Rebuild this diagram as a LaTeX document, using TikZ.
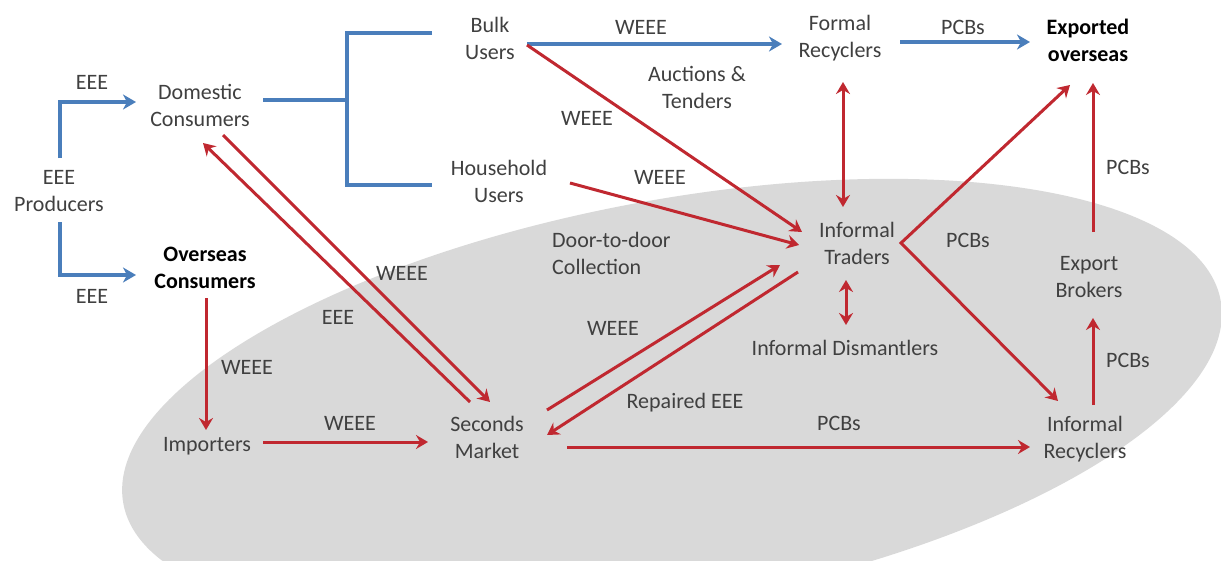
\documentclass[tikz,border=0pt]{standalone}
\usepackage{fontspec}
\setmainfont{Carlito}
\usetikzlibrary{arrows.meta}
\definecolor{ablue}{RGB}{74,126,187}
\definecolor{ared}{RGB}{192,40,48}
\definecolor{txt}{RGB}{64,64,64}
\definecolor{blob}{RGB}{217,217,217}
\begin{document}
\begin{tikzpicture}[x=1pt,y=-1pt,
  lbl/.style={text=txt, font=\fontsize{22}{27}\selectfont, align=center, inner sep=0pt},
  boldlbl/.style={lbl, text=black, font=\fontsize{22}{27}\selectfont\bfseries},
  bluearrow/.style={draw=ablue, line width=3.5pt, -{Stealth[length=13pt,width=15pt,inset=4pt]}},
  blueline/.style={draw=ablue, line width=3.5pt},
  redarrow/.style={draw=ared, line width=3pt, -{Stealth[length=12pt,width=14pt,inset=4pt]}},
  redboth/.style={draw=ared, line width=3pt, {Stealth[length=12pt,width=14pt,inset=4pt]}-{Stealth[length=12pt,width=14pt,inset=4pt]}},
]
\useasboundingbox (0,0) rectangle (1221,560);
\clip (0,0) rectangle (1221,560);
\fill[white] (0,0) rectangle (1221,560);
\begin{scope}[shift={(672,402)}, rotate=10.5]
  \fill[blob] (0,0) ellipse [x radius=558, y radius=202];
\end{scope}

% main nodes
\node[lbl] (prod) at (59,191) {EEE\\Producers};
\node[lbl] (dom) at (200,105) {Domestic\\Consumers};
\node[boldlbl] (ovs) at (205,268) {Overseas\\Consumers};
\node[lbl] (bulk) at (490,38) {Bulk\\Users};
\node[lbl] (house) at (499,181) {Household\\Users};
\node[lbl] (formal) at (840,38) {Formal\\Recyclers};
\node[boldlbl] (export) at (1088,40) {Exported\\overseas};
\node[lbl] (traders) at (857,243) {Informal\\Traders};
\node[lbl] (dism) at (845,348) {Informal Dismantlers};
\node[lbl] (brokers) at (1089,277) {Export\\Brokers};
\node[lbl] (irec) at (1085,439) {Informal\\Recyclers};
\node[lbl] (second) at (487,437) {Seconds\\Market};
\node[lbl] (imp) at (207,446) {Importers};

% edge labels
\node[lbl] (l1) at (92,82) {EEE};
\node[lbl] (l2) at (92,296) {EEE};
\node[lbl] (l3) at (641,27) {WEEE};
\node[lbl] (l4) at (697,87) {Auctions \&\\Tenders};
\node[lbl] (l5) at (587,118) {WEEE};
\node[lbl] (l6) at (660,177) {WEEE};
\node[lbl, align=left, anchor=west] (l7) at (552,253) {Door-to-door\\Collection};
\node[lbl] (l8) at (402,273) {WEEE};
\node[lbl] (l9) at (338,317) {EEE};
\node[lbl] (l10) at (247,367) {WEEE};
\node[lbl] (l11) at (350,423) {WEEE};
\node[lbl] (l12) at (613,328) {WEEE};
\node[lbl] (l13) at (685,403) {Repaired EEE};
\node[lbl] (l14) at (839,423) {PCBs};
\node[lbl] (l15) at (968,240) {PCBs};
\node[lbl] (l16) at (1128,167) {PCBs};
\node[lbl] (l17) at (1128,360) {PCBs};
\node[lbl] (l18) at (963,27) {PCBs};

% blue connectors
\draw[bluearrow] ([shift={(1,-33)}]prod.center) |- ([shift={(-64,-3)}]dom.center);
\draw[bluearrow] ([shift={(1,31)}]prod.center) |- ([shift={(-69,7)}]ovs.center);
\draw[blueline] ([shift={(63,-5)}]dom.center) -- ++(84,0);
\draw[blueline] ([shift={(-58,-5)}]bulk.center) -- ++(-85,0) -- ++(0,152) -- ([shift={(-67,4)}]house.center);
\draw[bluearrow] ([shift={(37,6)}]bulk.center) -- ([shift={(-58,6)}]formal.center);
\draw[bluearrow] ([shift={(60,4)}]formal.center) -- ([shift={(-58,2)}]export.center);

% red connectors
\draw[redarrow] ([shift={(37,7)}]bulk.center) -- ([shift={(-55,-11)}]traders.center);
\draw[redarrow] ([shift={(71,2)}]house.center) -- ([shift={(-58,2)}]traders.center);
\draw[redarrow] ([shift={(60,-27)}]second.center) -- ([shift={(-77,22)}]traders.center);
\draw[redarrow] ([shift={(-59,29)}]traders.center) -- ([shift={(60,-2)}]second.center);
\draw[redarrow] ([shift={(23,30)}]dom.center) -- ([shift={(3,-35)}]second.center);
\draw[redarrow] ([shift={(-17,-35)}]second.center) -- ([shift={(3,38)}]dom.center);
\draw[redarrow] ([shift={(1,30)}]ovs.center) -- ([shift={(-1,-16)}]imp.center);
\draw[redarrow] ([shift={(56,-4)}]imp.center) -- ([shift={(-59,5)}]second.center);
\draw[redarrow] ([shift={(80,10)}]second.center) -- ([shift={(-55,8)}]irec.center);
\draw[redboth] ([shift={(3,44)}]formal.center) -- ([shift={(-14,-36)}]traders.center);
\draw[redboth] ([shift={(-11,37)}]traders.center) -- ([shift={(1,-23)}]dism.center);
\draw[redboth] ([shift={(-18,45)}]export.center) -- ([shift={(44,0)}]traders.center) -- ([shift={(-27,-38)}]irec.center);
\draw[redarrow] ([shift={(4,-45)}]brokers.center) -- ([shift={(5,43)}]export.center);
\draw[redarrow] ([shift={(8,-34)}]irec.center) -- ([shift={(4,41)}]brokers.center);
\end{tikzpicture}
\end{document}
